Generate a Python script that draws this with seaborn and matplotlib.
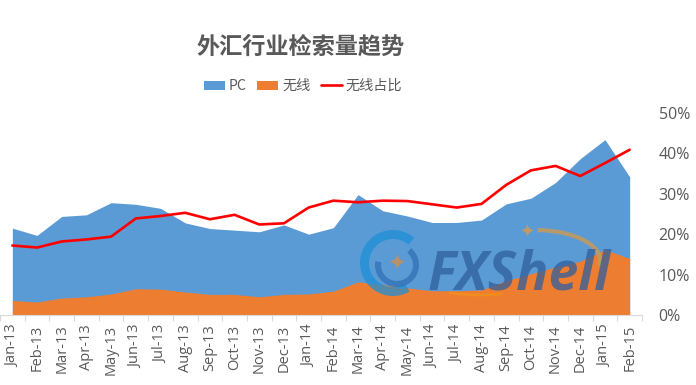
import seaborn as sns
import pandas as pd
import matplotlib.pyplot as plt
from matplotlib.patches import Wedge, Arc
from matplotlib.transforms import IdentityTransform
from matplotlib.ticker import PercentFormatter

months = ['Jan-13', 'Feb-13', 'Mar-13', 'Apr-13', 'May-13', 'Jun-13', 'Jul-13', 'Aug-13', 'Sep-13',
          'Oct-13', 'Nov-13', 'Dec-13', 'Jan-14', 'Feb-14', 'Mar-14', 'Apr-14', 'May-14', 'Jun-14',
          'Jul-14', 'Aug-14', 'Sep-14', 'Oct-14', 'Nov-14', 'Dec-14', 'Jan-15', 'Feb-15']
# areas in units of the percent axis
pc = [21.5, 19.7, 24.4, 24.8, 27.8, 27.4, 26.4, 22.8, 21.4, 21.0, 20.6, 22.3, 20.0,
      21.6, 29.8, 25.8, 24.5, 22.9, 22.9, 23.5, 27.5, 28.9, 32.8, 38.7, 43.4, 34.2]
wireless = [3.6, 3.2, 4.2, 4.5, 5.2, 6.5, 6.4, 5.7, 5.1, 5.1, 4.5, 5.1, 5.2,
            5.9, 8.2, 7.5, 6.7, 6.0, 6.0, 6.2, 8.5, 10.2, 11.9, 13.3, 16.2, 14.0]
share = [17.2, 16.7, 18.2, 18.7, 19.4, 23.9, 24.5, 25.3, 23.7, 24.8, 22.4, 22.7, 26.6,
         28.3, 27.9, 28.3, 28.2, 27.4, 26.6, 27.5, 32.2, 35.8, 36.9, 34.4, 37.6, 40.9]

sns.set_style('white')
plt.rcParams['font.family'] = ['Noto Sans CJK SC', 'DejaVu Sans']
grey = '#595959'

df = pd.DataFrame({'x': range(len(months)), 'share': share})

fig = plt.figure(figsize=(6.96, 3.85), dpi=100)
ax = fig.add_axes([0, 1 - 315 / 385, 642 / 696, (315 - 113) / 385])

ax.fill_between(df['x'], pc, color='#5b9bd5', lw=0, label='PC')
ax.fill_between(df['x'], wireless, color='#ed7d31', lw=0, label='无线')
sns.lineplot(data=df, x='x', y='share', color='#ff0000', lw=1.9, ax=ax, label='无线占比', legend=False)

ax.set_xlim(-0.5, 25.5)
ax.set_ylim(0, 50)
ax.set_xlabel('')
ax.set_ylabel('')
ax.set_xticks(df['x'])
ax.set_xticklabels(months, rotation=90, color=grey, fontsize=10.5, family='Open Sans')
ax.set_xticks([i + 0.5 for i in range(-1, 26)], minor=True)
ax.tick_params(axis='x', which='major', length=0, pad=7)
ax.tick_params(axis='x', which='minor', length=4, width=0.8, color='#d9d9d9', bottom=True)

ax.yaxis.tick_right()
ax.set_yticks([0, 10, 20, 30, 40, 50])
ax.yaxis.set_major_formatter(PercentFormatter(decimals=0))
ax.tick_params(axis='y', length=0, pad=12, labelsize=11.5, labelcolor=grey)
for lab in ax.get_yticklabels():
    lab.set_family('Open Sans')

sns.despine(ax=ax, left=True, right=True, top=True)
ax.spines['bottom'].set_color('#d9d9d9')

# watermark over the plot, rough logo in pixel coordinates
px = IdentityTransform()
fig.add_artist(Wedge((393, 122), 33, 50, 300, width=9, color='#1d8fd6', alpha=0.75, lw=0, transform=px))
fig.add_artist(Wedge((397, 120), 22, 170, 50, width=6, color='#2f6fb5', alpha=0.75, lw=0, transform=px))
fig.add_artist(Arc((535, 125), 130, 60, theta1=-5, theta2=85, color='#c09a62', lw=3, alpha=0.9, transform=px))
fig.add_artist(Arc((480, 110), 130, 40, theta1=210, theta2=320, color='#f28e1c', lw=2, alpha=0.9, transform=px))
fig.text(396 / 696, 1 - 265 / 385, '✦', fontsize=16, color='#b8906a', ha='center', va='center',
         family=['DejaVu Sans'])
fig.text(527 / 696, 1 - 233 / 385, '✦', fontsize=13, color='#c09a62', ha='center', va='center',
         family=['DejaVu Sans'])
fig.text(428 / 696, 1 - 276 / 385, 'FXShell', fontsize=38.5, fontweight='bold', style='italic',
         family='Open Sans', color='#2f5f9e', alpha=0.75, ha='left', va='center')

fig.text(301 / 696, 1 - 47 / 385, '外汇行业检索量趋势', fontsize=16.7, fontweight='bold', color=grey,
         ha='center', va='center')
handles, labels = ax.get_legend_handles_labels()
fig.legend(handles, labels, ncol=3, loc='center', bbox_to_anchor=(303 / 696, 1 - 86 / 385), frameon=False,
           fontsize=10.2, labelcolor=grey, handlelength=1.5, handleheight=0.6, columnspacing=0.75,
           handletextpad=0.25)

fig.savefig('out.png', dpi=100)
